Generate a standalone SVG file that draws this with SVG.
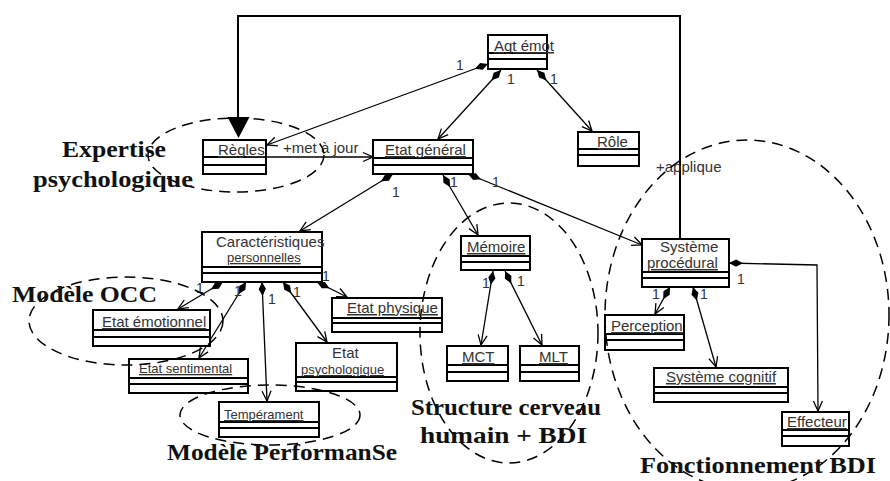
<svg xmlns="http://www.w3.org/2000/svg" width="890" height="481" viewBox="0 0 890 481">
<defs>
<marker id="diam" markerUnits="userSpaceOnUse" markerWidth="16" markerHeight="10" refX="0" refY="0" orient="auto" overflow="visible"><path d="M0,0 L7,-3.6 L14,0 L7,3.6 Z" fill="#000"/></marker>
<marker id="open" markerUnits="userSpaceOnUse" markerWidth="12" markerHeight="10" refX="0" refY="0" orient="auto" overflow="visible"><path d="M-10,-4.5 L0,0 L-10,4.5" fill="none" stroke="#000" stroke-width="1.3"/></marker>
</defs>
<style>
.box rect{fill:#fff;stroke:#000;stroke-width:2}
.box line{stroke:#000;stroke-width:2}
.n{font-family:"Liberation Sans",Arial,sans-serif;font-size:15px;fill:#333;text-decoration:underline}
.s{font-size:13px}
.m{font-family:"Liberation Sans",Arial,sans-serif;font-size:14px;fill:#333}
.r{font-family:"Liberation Sans",Arial,sans-serif;font-size:15px;fill:#333}
.c{fill:none;stroke:#000;stroke-width:1.3;marker-start:url(#diam);marker-end:url(#open)}
.a{fill:none;stroke:#000;stroke-width:1.3;marker-end:url(#open)}
.el{fill:none;stroke:#000;stroke-width:1.5;stroke-dasharray:11 7}
.lbl{font-family:"Liberation Serif","Times New Roman",serif;font-size:24px;font-weight:bold;fill:#111}
</style>
<rect x="0" y="0" width="890" height="481" fill="#fff"/>

<g id="connectors">
<path d="M680,239 L680,16 L238,16 L238,118" fill="none" stroke="#000" stroke-width="2"/>
<polygon points="227.5,117 249.5,117 238.5,138" fill="#000"/>
<path class="c" d="M488,64 L267,145"/>
<path class="c" d="M501,70 L438,139"/>
<path class="c" d="M537,70 L592,131"/>
<path class="a" d="M266,157 L373,157"/>
<path class="c" d="M393,174 L300,231"/>
<path class="c" d="M443,175 L478,235"/>
<path class="c" d="M468,174 L642,245"/>
<path class="c" d="M223,282 L178,309"/>
<path class="c" d="M246,282 L199,358"/>
<path class="c" d="M262,282 L267,401"/>
<path class="c" d="M283,282 L327,342"/>
<path class="c" d="M317,282 L347,297"/>
<path class="c" d="M493,271 L481,345"/>
<path class="c" d="M505,271 L542,345"/>
<path class="c" d="M670,287 L655,314"/>
<path class="c" d="M693,287 L716,367"/>
<path class="c" d="M729,263 L817,265 L818,411"/>
<text class="r" x="283" y="153">+met à jour</text>
<text class="r" x="656" y="172">+applique</text>
<text class="m" x="456" y="70">1</text>
<text class="m" x="507" y="84">1</text>
<text class="m" x="550" y="84">1</text>
<text class="m" x="392" y="197">1</text>
<text class="m" x="450" y="187">1</text>
<text class="m" x="492" y="187">1</text>
<text class="m" x="196" y="293">1</text>
<text class="m" x="234" y="296">1</text>
<text class="m" x="268" y="304">1</text>
<text class="m" x="293" y="297">1</text>
<text class="m" x="322" y="281">1</text>
<text class="m" x="482" y="288">1</text>
<text class="m" x="517" y="286">1</text>
<text class="m" x="652" y="299">1</text>
<text class="m" x="700" y="299">1</text>
<text class="m" x="737" y="284">1</text>
</g>

<g id="agt-emot" class="box"><rect x="488" y="35" width="59" height="34"/><line x1="488" y1="53" x2="547" y2="53"/><line x1="488" y1="59" x2="547" y2="59"/><text class="n" x="494" y="51">Agt émot</text></g>
<g id="regles" class="box"><rect x="203" y="140" width="63" height="34"/><line x1="203" y1="157" x2="266" y2="157"/><line x1="203" y1="165" x2="266" y2="165"/><text class="n" x="218" y="155">Règles</text></g>
<g id="etat-general" class="box"><rect x="373" y="140" width="100" height="34"/><line x1="373" y1="158" x2="473" y2="158"/><line x1="373" y1="165" x2="473" y2="165"/><text class="n" x="385" y="155">Etat général</text></g>
<g id="role" class="box"><rect x="578" y="132" width="61" height="34"/><line x1="578" y1="149" x2="639" y2="149"/><line x1="578" y1="155" x2="639" y2="155"/><text class="n" x="597" y="147">Rôle</text></g>
<g id="caracteristiques" class="box"><rect x="202" y="232" width="120" height="50"/><line x1="202" y1="267" x2="322" y2="267"/><line x1="202" y1="273" x2="322" y2="273"/><text class="r s" x="216" y="247">Caractéristiques</text><text class="n s" x="227" y="262">personnelles</text></g>
<g id="memoire" class="box"><rect x="461" y="236" width="69" height="34"/><line x1="461" y1="256" x2="530" y2="256"/><line x1="461" y1="262" x2="530" y2="262"/><text class="n" x="467" y="252">Mémoire</text></g>
<g id="systeme-procedural" class="box"><rect x="642" y="239" width="87" height="48"/><line x1="642" y1="272" x2="729" y2="272"/><line x1="642" y1="278" x2="729" y2="278"/><text class="r" x="660" y="252">Système</text><text class="n" x="647" y="268">procédural</text></g>
<g id="etat-emotionnel" class="box"><rect x="93" y="310" width="117" height="36"/><line x1="93" y1="330" x2="210" y2="330"/><line x1="93" y1="337" x2="210" y2="337"/><text class="n" x="102" y="327">Etat émotionnel</text></g>
<g id="etat-physique" class="box"><rect x="332" y="298" width="110" height="34"/><line x1="332" y1="318" x2="442" y2="318"/><line x1="332" y1="323" x2="442" y2="323"/><text class="n" x="347" y="313">Etat physique</text></g>
<g id="etat-sentimental" class="box"><rect x="129" y="359" width="119" height="34"/><line x1="129" y1="378" x2="248" y2="378"/><line x1="129" y1="384" x2="248" y2="384"/><text class="n s" x="139" y="373">Etat sentimental</text></g>
<g id="etat-psychologique" class="box"><rect x="296" y="343" width="101" height="48"/><line x1="296" y1="377" x2="397" y2="377"/><line x1="296" y1="382" x2="397" y2="382"/><text class="r" x="332" y="358" font-size="14">Etat</text><text class="n s" x="301" y="374">psychologique</text></g>
<g id="temperament" class="box"><rect x="219" y="402" width="100" height="35"/><line x1="219" y1="422" x2="319" y2="422"/><line x1="219" y1="428" x2="319" y2="428"/><text class="n s" x="224" y="419">Tempérament</text></g>
<g id="mct" class="box"><rect x="447" y="346" width="61" height="35"/><line x1="447" y1="365" x2="508" y2="365"/><line x1="447" y1="372" x2="508" y2="372"/><text class="n" x="462" y="362" font-size="14">MCT</text></g>
<g id="mlt" class="box"><rect x="520" y="346" width="59" height="35"/><line x1="520" y1="365" x2="579" y2="365"/><line x1="520" y1="372" x2="579" y2="372"/><text class="n" x="539" y="362" font-size="14">MLT</text></g>
<g id="perception" class="box"><rect x="605" y="315" width="79" height="35"/><line x1="605" y1="334" x2="684" y2="334"/><line x1="605" y1="340" x2="684" y2="340"/><text class="n" x="611" y="331">Perception</text></g>
<g id="systeme-cognitif" class="box"><rect x="654" y="368" width="134" height="34"/><line x1="654" y1="387" x2="788" y2="387"/><line x1="654" y1="393" x2="788" y2="393"/><text class="n" x="666" y="382">Système cognitif</text></g>
<g id="effecteur" class="box"><rect x="782" y="412" width="67" height="34"/><line x1="782" y1="430" x2="849" y2="430"/><line x1="782" y1="436" x2="849" y2="436"/><text class="n" x="787" y="427">Effecteur</text></g>

<g id="groups">
<ellipse class="el" cx="236" cy="155" rx="88" ry="37"/>
<ellipse class="el" cx="126" cy="321" rx="97" ry="44"/>
<ellipse class="el" cx="270" cy="415" rx="90" ry="30"/>
<ellipse class="el" cx="509" cy="333" rx="89" ry="130"/>
<ellipse class="el" cx="747" cy="315" rx="142" ry="175"/>
<text class="lbl" x="62" y="157" textLength="104" lengthAdjust="spacingAndGlyphs">Expertise</text>
<text class="lbl" x="33" y="187" textLength="160" lengthAdjust="spacingAndGlyphs">psychologique</text>
<text class="lbl" x="12" y="302" textLength="145" lengthAdjust="spacingAndGlyphs">Modèle OCC</text>
<text class="lbl" x="167" y="460" textLength="230" lengthAdjust="spacingAndGlyphs">Modèle PerformanSe</text>
<text class="lbl" x="411" y="415" textLength="190" lengthAdjust="spacingAndGlyphs">Structure cerveau</text>
<text class="lbl" x="420" y="443" textLength="167" lengthAdjust="spacingAndGlyphs">humain + BDI</text>
<text class="lbl" x="640" y="473" textLength="236" lengthAdjust="spacingAndGlyphs">Fonctionnement BDI</text>
</g>
</svg>
